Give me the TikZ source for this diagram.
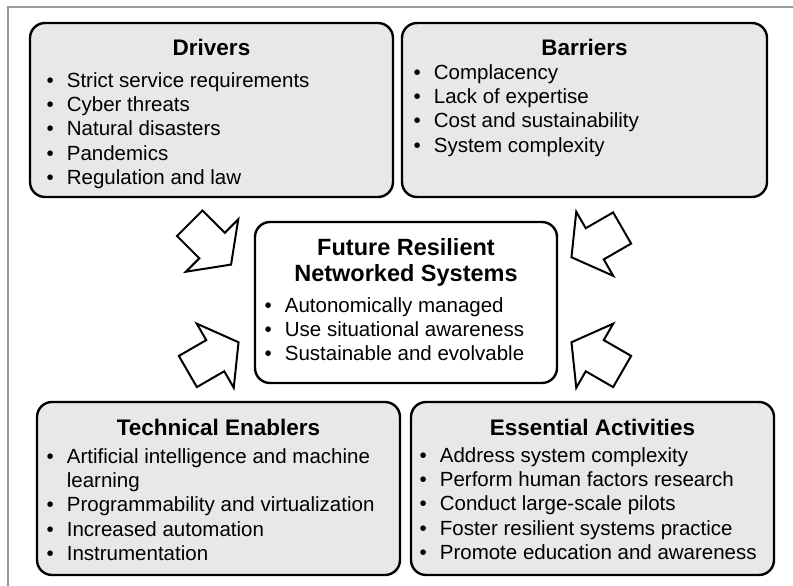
\documentclass[tikz,border=0pt]{standalone}
\usepackage{fontspec}
\setmainfont{Liberation Sans}
\usetikzlibrary{shapes.arrows}
\newcommand{\bi}{\textbullet&}
\newcommand{\blist}[1]{\begin{tabular}[t]{@{}l@{\hspace{13pt}}l@{}}#1\end{tabular}}

\begin{document}
\begin{tikzpicture}[x=1pt,y=-1pt,
  panel/.style={draw,line width=2.4pt,rounded corners=15pt,fill=black!9,inner sep=0},
  hubpanel/.style={panel,fill=white},
  heading/.style={font=\bfseries\fontsize{22.5}{26}\selectfont,anchor=base,inner sep=0},
  points/.style={font=\fontsize{20.5}{24.2}\selectfont,anchor=base west,inner sep=0},
  inflow/.style={single arrow,draw,fill=white,line width=2pt,inner xsep=0pt,inner ysep=17pt,
    minimum height=58.5pt,single arrow head extend=19pt,single arrow tip angle=108,anchor=tail}]
\useasboundingbox (0,0) rectangle (793,586);
\draw[line width=1.5pt,black!40] (8,586) -- (8,7) -- (793,7);

\node[panel,minimum width=363pt,minimum height=174pt] (drivers) at (211.5,110) {};
\node[panel,minimum width=365pt,minimum height=174pt] (barriers) at (584.5,110) {};
\node[panel,minimum width=363pt,minimum height=173pt] (enablers) at (218.5,488.5) {};
\node[panel,minimum width=363pt,minimum height=173pt] (activities) at (592.5,488.5) {};
\node[hubpanel,minimum width=302pt,minimum height=161pt] (hub) at (406,302.5) {};

\node[heading] (driverstitle) at (211.5,56) {Drivers};
\node[heading] (barrierstitle) at (584.5,56) {Barriers};
\node[heading] (enablerstitle) at (218.5,435) {Technical Enablers};
\node[heading] (activitiestitle) at (592.5,435) {Essential Activities};
\node[heading,font=\bfseries\fontsize{23.5}{26}\selectfont] (hubtitle) at (406,255.5)
  {\begin{tabular}[t]{@{}c@{}}Future Resilient\\Networked Systems\end{tabular}};

\node[points] (driverslist) at (46.5,87.5) {\blist{
  \bi Strict service requirements\\ \bi Cyber threats\\ \bi Natural disasters\\
  \bi Pandemics\\ \bi Regulation and law}};
\node[points] (barrierslist) at (413.5,79.5) {\blist{
  \bi Complacency\\ \bi Lack of expertise\\ \bi Cost and sustainability\\
  \bi System complexity}};
\node[points] (hublist) at (264.5,312.5) {\blist{
  \bi Autonomically managed\\ \bi Use situational awareness\\ \bi Sustainable and evolvable}};
\node[points] (enablerslist) at (46.5,463.5) {\blist{
  \bi Artificial intelligence and machine\\ & learning\\
  \bi Programmability and virtualization\\ \bi Increased automation\\ \bi Instrumentation}};
\node[points] (activitieslist) at (419.5,462.5) {\blist{
  \bi Address system complexity\\ \bi Perform human factors research\\
  \bi Conduct large-scale pilots\\ \bi Foster resilient systems practice\\
  \bi Promote education and awareness}};

\node[inflow,rotate=-45] (fromdrivers) at (189,222.5) {};
\node[inflow,rotate=210] (frombarriers) at (623,227.5) {};
\node[inflow,rotate=30] (fromenablers) at (187,372) {};
\node[inflow,rotate=150] (fromactivities) at (623,372) {};
\end{tikzpicture}
\end{document}
